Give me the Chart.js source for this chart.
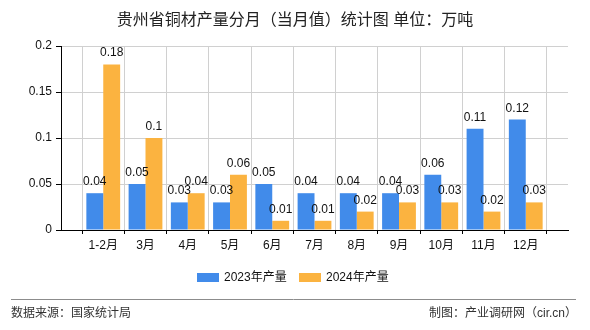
<!DOCTYPE html>
<html>
<head>
<meta charset="utf-8">
<script src="https://cdn.jsdelivr.net/npm/chart.js@4/dist/chart.umd.min.js"></script>
<style>
  html, body { margin: 0; padding: 0; background: #fff; }
  #wrap { width: 590px; height: 330px; position: relative; }
</style>
</head>
<body>
<div id="wrap"><canvas id="copperChart" width="590" height="330"></canvas></div>
<script>
const titleText = "贵州省铜材产量分月（当月值）统计图 单位：万吨";
const categories = ["1-2月", "3月", "4月", "5月", "6月", "7月", "8月", "9月", "10月", "11月", "12月"];
const values2023 = [0.04, 0.05, 0.03, 0.03, 0.05, 0.04, 0.04, 0.04, 0.06, 0.11, 0.12];
const values2024 = [0.18, 0.1, 0.04, 0.06, 0.01, 0.01, 0.02, 0.03, 0.03, 0.02, 0.03];
const seriesNames = ["2023年产量", "2024年产量"];
const yTicks = [0, 0.05, 0.1, 0.15, 0.2];
const sourceText = "数据来源：国家统计局";
const creditText = "制图：产业调研网（cir.cn）";

const FONT = "'Liberation Sans', 'Noto Sans CJK SC', sans-serif";
const BLUE = "#418bea";
const ORANGE = "#fbb340";

// axis has an empty slot on both ends, ticks sit on the slot boundaries
const labels = [""].concat(categories, [""]);
const pad = arr => [null].concat(arr, [null]);

const extrasPlugin = {
    id: "extras",
    afterDatasetsDraw(chart) {
        const ctx = chart.ctx;
        ctx.save();
        ctx.font = "12px " + FONT;
        ctx.fillStyle = "#111";
        ctx.textAlign = "center";
        ctx.textBaseline = "alphabetic";
        chart.data.datasets.forEach((ds, di) => {
            const meta = chart.getDatasetMeta(di);
            meta.data.forEach((bar, i) => {
                const v = ds.data[i];
                if (v === null) return;
                ctx.fillText(String(v), bar.x, bar.y - 8);
            });
        });
        ctx.restore();
    },
    afterDraw(chart) {
        const ctx = chart.ctx;
        ctx.save();
        // title
        ctx.font = "16px " + FONT;
        ctx.fillStyle = "#222";
        ctx.textAlign = "center";
        ctx.textBaseline = "middle";
        ctx.fillText(titleText, 295, 21);

        // legend
        ctx.font = "12px " + FONT;
        ctx.textAlign = "left";
        let x = 197;
        chart.data.datasets.forEach(ds => {
            ctx.fillStyle = ds.backgroundColor;
            ctx.fillRect(x, 273, 22, 9);
            ctx.fillStyle = "#111";
            ctx.fillText(ds.label, x + 27, 278);
            x += 102;
        });

        // footer
        ctx.strokeStyle = "#8c8c8c";
        ctx.lineWidth = 1;
        ctx.beginPath();
        ctx.moveTo(11, 299.5);
        ctx.lineTo(576, 299.5);
        ctx.stroke();
        ctx.fillStyle = "#333";
        ctx.fillText(sourceText, 11, 314);
        ctx.textAlign = "right";
        ctx.fillText(creditText, 577, 314);
        ctx.restore();
    }
};

new Chart(document.getElementById("copperChart").getContext("2d"), {
    type: "bar",
    data: {
        labels: labels,
        datasets: [
            { label: seriesNames[0], data: pad(values2023), backgroundColor: BLUE },
            { label: seriesNames[1], data: pad(values2024), backgroundColor: ORANGE }
        ]
    },
    options: {
        responsive: false,
        animation: false,
        events: [],
        layout: { padding: { left: 0, right: 22, top: 46, bottom: 70 } },
        datasets: { bar: { categoryPercentage: 0.8, barPercentage: 1.0 } },
        plugins: { legend: { display: false }, title: { display: false }, tooltip: { enabled: false } },
        scales: {
            x: {
                offset: false,
                afterFit: s => { s.height = 30; },
                grid: { color: "#d0d0d0", tickColor: "#000", tickLength: 4, drawOnChartArea: true },
                border: { color: "#000" },
                ticks: { color: "#111", font: { size: 12, family: FONT }, padding: 4, maxRotation: 0, autoSkip: false }
            },
            y: {
                min: 0,
                max: 0.2,
                afterFit: s => { s.width = 61; },
                afterBuildTicks: s => { s.ticks = yTicks.map(v => ({ value: v })); },
                grid: { color: "#d0d0d0", tickColor: "#000", tickLength: 5 },
                border: { color: "#000" },
                ticks: { color: "#111", font: { size: 12, family: FONT }, padding: 4, callback: v => String(v) }
            }
        }
    },
    plugins: [extrasPlugin]
});
</script>
</body>
</html>
